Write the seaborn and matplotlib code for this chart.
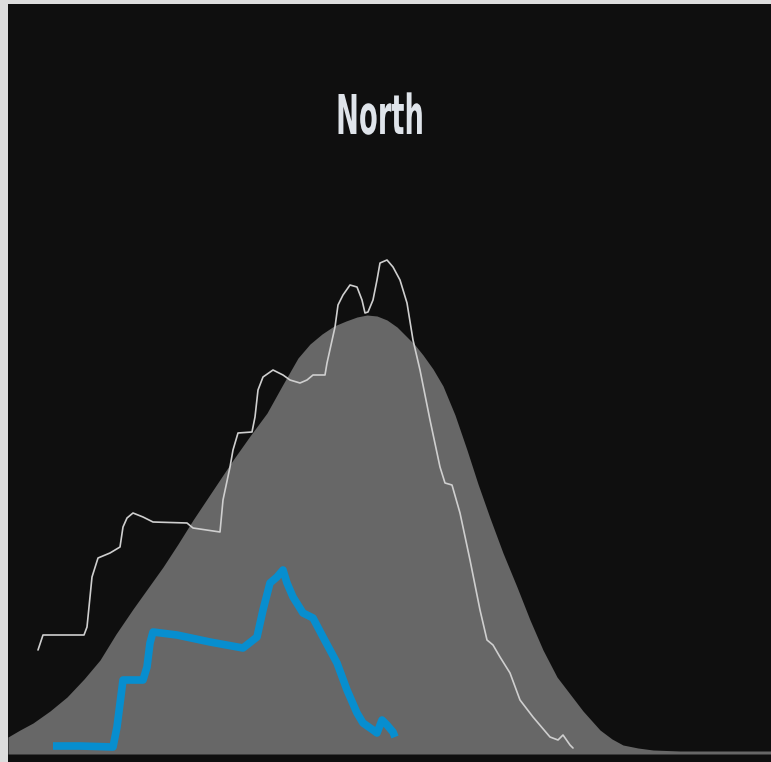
import matplotlib
matplotlib.use("Agg")
import matplotlib.pyplot as plt
from matplotlib import patheffects
from matplotlib.transforms import Affine2D
import seaborn as sns
import pandas as pd

# ---- data ----
title = "North"

# smooth grey distribution (envelope)
dist_x = [8, 20, 33, 50, 67, 84, 100, 116, 133, 148, 163, 178, 193, 213, 233,
          250, 267, 282, 298, 310, 322, 334, 346, 357, 367, 377, 387, 397, 407,
          415, 423, 433, 443, 455, 467, 478, 490, 503, 517, 530, 543, 557, 570,
          583, 600, 612, 623, 638, 653, 680, 720, 771]
dist_y = [17, 24, 31, 43, 57, 75, 94, 120, 145, 166, 187, 210, 234, 264, 294,
          318, 341, 368, 396, 410, 420, 428, 433, 437, 439, 438, 434, 427, 417,
          409, 399, 385, 368, 339, 304, 270, 236, 201, 167, 134, 104, 77, 60,
          43, 24, 15, 9, 6, 4, 3, 3, 3]

# thin white series
white_x = [38, 43, 84, 87, 92, 98, 110, 120, 123, 127, 133, 143, 153, 187, 193,
           220, 223, 230, 233, 238, 252, 255, 258, 263, 273, 283, 290, 300, 307,
           313, 325, 327, 335, 338, 343, 350, 357, 362, 365, 368, 373, 377, 380,
           387, 393, 400, 407, 413, 420, 430, 440, 445, 452, 460, 470, 480, 487,
           493, 500, 510, 520, 533, 550, 558, 563, 570, 573]
white_y = [104, 119, 119, 127, 177, 196, 201, 207, 227, 236, 241, 237, 232, 231,
           226, 222, 254, 287, 304, 321, 322, 337, 364, 377, 384, 379, 374, 371,
           374, 379, 379, 391, 427, 449, 459, 469, 467, 454, 441, 442, 454, 474,
           491, 494, 487, 474, 451, 414, 384, 334, 287, 271, 269, 241, 194, 144,
           114, 109, 97, 81, 54, 37, 17, 14, 19, 9, 6]

# thick blue series
blue_x = [53, 80, 113, 117, 123, 143, 147, 150, 153, 177, 210, 243, 257, 263,
          270, 277, 283, 287, 293, 303, 313, 323, 337, 347, 357, 363, 373, 377,
          382, 387, 393, 395]
blue_y = [8, 8, 7, 27, 74, 74, 87, 111, 122, 119, 112, 106, 117, 144, 171,
          177, 184, 171, 157, 141, 136, 117, 91, 64, 41, 31, 24, 21, 34, 29, 22,
          17]


class Condense(patheffects.AbstractPathEffect):
    """Squeeze glyphs horizontally about a display x position."""

    def __init__(self, cx, sx):
        super().__init__()
        self.cx = cx
        self.sx = sx

    def draw_path(self, renderer, gc, tpath, affine, rgbFace=None):
        squeeze = Affine2D().translate(-self.cx, 0).scale(self.sx, 1).translate(self.cx, 0)
        renderer.draw_path(gc, tpath, affine + squeeze, rgbFace)


# ---- style ----
sns.set_theme(style="dark")
bg = "#0f0f0f"
fig = plt.figure(figsize=(7.71, 7.62), dpi=100, facecolor="#dddddd")
ax = fig.add_axes([8 / 771, 0, 763 / 771, 758 / 762])
ax.set_facecolor(bg)

ax.fill_between(dist_x, 0, dist_y, color="#676767", linewidth=0, zorder=1)

wdf = pd.DataFrame({"x": white_x, "y": white_y})
bdf = pd.DataFrame({"x": blue_x, "y": blue_y})
sns.lineplot(data=wdf, x="x", y="y", ax=ax, sort=False, estimator=None,
             color="#cfcfcf", linewidth=1.2, zorder=3)
sns.lineplot(data=bdf, x="x", y="y", ax=ax, sort=False, estimator=None,
             color="#078ecf", linewidth=5.5, zorder=4,
             solid_capstyle="butt", solid_joinstyle="round")

ax.set_xlim(8, 771)
ax.set_ylim(-8, 750)
ax.set_xticks([])
ax.set_yticks([])
ax.set_xlabel("")
ax.set_ylabel("")
for s in ax.spines.values():
    s.set_visible(False)

tx, ty = 380, 754 - 134
cx_disp = ax.transData.transform((tx, ty))[0]
ax.text(tx, ty, title, ha="center", va="baseline", color="#dfe4ea",
        fontsize=39.5, family="DejaVu Sans", fontweight="bold",
        path_effects=[Condense(cx_disp, 0.5)])

fig.savefig("out.png", dpi=100, facecolor=fig.get_facecolor())
